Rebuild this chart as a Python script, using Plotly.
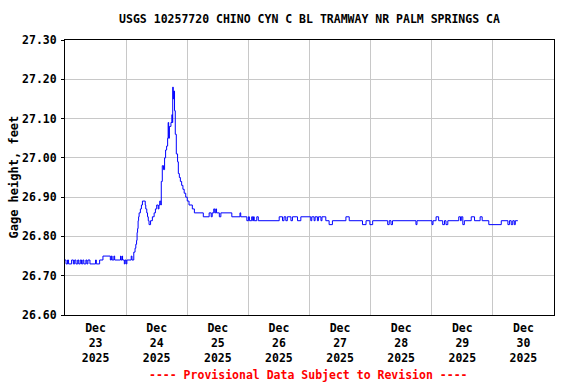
import pandas as pd
import plotly.graph_objects as go

# hours since 2025-12-23 00:00 at which gage height changes, and the new value (feet)
change_hours = [
    0.0, 0.4, 1.0, 1.4, 2.6, 3.3, 3.8, 4.3, 5.0, 5.4, 6.0, 6.5, 7.0, 7.4, 8.2, 8.6, 9.0, 9.8,
    12.0, 12.3, 13.6, 14.9, 17.8, 18.2, 18.5, 19.2, 19.5, 21.8, 22.0, 22.4, 22.6, 23.3, 23.6,
    24.0, 24.3, 26.0, 26.3, 27.0, 27.5, 27.8, 28.1, 28.3, 28.5, 28.7, 28.9, 29.1, 29.6, 30.0,
    30.4, 31.5, 31.7, 32.1, 32.4, 32.7, 33.0, 33.6, 34.3, 35.0, 35.5, 36.0, 36.6, 36.9, 37.2,
    37.6, 37.8, 38.2, 38.7, 39.1, 39.5, 39.9, 40.3, 40.5, 40.7, 41.0, 41.6, 42.0, 42.1, 42.3,
    42.5, 42.7, 43.0, 43.3, 43.7, 44.2, 44.5, 44.9, 45.3, 45.8, 46.3, 46.8, 47.4, 48.0, 48.7,
    50.0, 50.8, 54.3, 56.6, 57.4, 57.8, 58.4, 58.8, 59.2, 59.5, 60.6, 61.2, 65.5, 68.7, 69.0,
    71.4, 72.0, 72.4, 73.3, 73.7, 74.0, 74.3, 75.3, 75.9, 84.1, 85.4, 86.0, 86.7, 87.3, 88.7,
    89.3, 91.3, 92.6, 96.5, 96.9, 97.8, 98.2, 99.1, 99.5, 100.5, 100.9, 102.4, 103.7, 105.0,
    110.3, 111.6, 116.8, 118.2, 119.7, 120.8, 126.7, 127.3, 128.0, 128.6, 137.8, 138.2, 144.1,
    144.5, 145.7, 146.7, 148.3, 149.0, 149.6, 150.3, 154.6, 155.3, 155.6, 156.2, 156.8, 159.5,
    160.8, 163.0, 163.8, 166.4, 171.3, 173.9, 174.5, 175.2, 175.8, 176.4, 176.8, 177.8,
]
gage_height = [
    26.74, 26.73, 26.74, 26.73, 26.74, 26.73, 26.74, 26.73, 26.74, 26.73, 26.74, 26.73, 26.74, 26.73, 26.74, 26.73, 26.74, 26.73,
    26.74, 26.73, 26.74, 26.75, 26.74, 26.75, 26.74, 26.75, 26.74, 26.75, 26.74, 26.75, 26.74, 26.73, 26.74,
    26.73, 26.74, 26.75, 26.74, 26.76, 26.77, 26.78, 26.79, 26.81, 26.82, 26.84, 26.85, 26.86, 26.87, 26.88,
    26.89, 26.88, 26.87, 26.86, 26.85, 26.84, 26.83, 26.84, 26.85, 26.86, 26.87, 26.88, 26.87, 26.88, 26.89,
    26.88, 26.94, 26.98, 26.97, 27.00, 27.02, 27.03, 27.05, 27.09, 27.05, 27.08, 27.09, 27.11, 27.09, 27.18,
    27.15, 27.17, 27.12, 27.06, 27.01, 26.99, 26.96, 26.95, 26.94, 26.93, 26.92, 26.91, 26.90, 26.89, 26.88,
    26.87, 26.86, 26.85, 26.86, 26.85, 26.86, 26.87, 26.86, 26.87, 26.86, 26.85, 26.86, 26.85, 26.86, 26.85,
    26.84, 26.85, 26.84, 26.85, 26.84, 26.85, 26.84, 26.85, 26.84, 26.85, 26.84, 26.85, 26.84, 26.85, 26.84,
    26.85, 26.84, 26.85, 26.84, 26.85, 26.84, 26.85, 26.84, 26.85, 26.84, 26.85, 26.84, 26.83, 26.84,
    26.85, 26.84, 26.83, 26.84, 26.83, 26.84, 26.83, 26.84, 26.83, 26.84, 26.83, 26.84, 26.83,
    26.84, 26.85, 26.84, 26.83, 26.84, 26.83, 26.84, 26.85, 26.84, 26.85, 26.83, 26.84, 26.85,
    26.84, 26.85, 26.84, 26.83, 26.84, 26.83, 26.84, 26.83, 26.84, 26.83, 26.84, 26.84,
]
start = pd.Timestamp("2025-12-23 00:00")
times = start + pd.to_timedelta(change_hours, unit="h")

title_text = "USGS 10257720 CHINO CYN C BL TRAMWAY NR PALM SPRINGS CA"
y_title = "Gage height, feet"
footer = "---- Provisional Data Subject to Revision ----"
y_ticks = [26.6, 26.7, 26.8, 26.9, 27.0, 27.1, 27.2, 27.3]

FONT = "DejaVu Sans Mono"
L, R, T, B = 65, 22, 40, 69
PW, PH = 576 - L - R, 384 - T - B

fig = go.Figure()
fig.add_trace(go.Scatter(
    x=times, y=gage_height, mode="lines", line_shape="hv",
    line=dict(color="#0000FF", width=1), showlegend=False,
))

fig.update_layout(
    width=576, height=384,
    margin=dict(l=L, r=R, t=T, b=B, autoexpand=False),
    paper_bgcolor="white", plot_bgcolor="white",
    font=dict(family=FONT, size=11.5, color="black", weight="bold"),
    title=dict(text=title_text, x=0.5, xref="paper", xanchor="center",
               y=1 - 19 / 384, yref="container", yanchor="middle",
               font=dict(family=FONT, size=11.5, color="black", weight="bold")),
)
fig.update_xaxes(
    type="date", automargin=False,
    range=[pd.Timestamp("2025-12-23 00:00"), pd.Timestamp("2025-12-31 00:00")],
    dtick=86400000, tick0="2025-12-23", ticklabelmode="period",
    tickformat="%b<br>%d<br>%Y", ticks="", ticklabelstandoff=2,
    showgrid=True, gridcolor="#c8c8c8", gridwidth=1,
    showline=True, linecolor="black", linewidth=1, mirror=True,
    zeroline=False,
    tickfont=dict(family=FONT, size=11.5, color="black", weight="bold"),
)
fig.update_yaxes(
    automargin=False,
    range=[26.6, 27.3], tickvals=y_ticks, tickformat=".2f",
    ticks="outside", ticklen=3, tickcolor="black", ticklabelstandoff=2,
    showgrid=True, gridcolor="#c8c8c8", gridwidth=1,
    showline=True, linecolor="black", linewidth=1, mirror=True,
    zeroline=False,
    tickfont=dict(family=FONT, size=11.5, color="black", weight="bold"),
)
fig.add_annotation(
    text=y_title, xref="paper", yref="paper",
    x=(13 - L) / PW, y=0.5, textangle=-90,
    xanchor="center", yanchor="middle", showarrow=False,
    font=dict(family=FONT, size=12, color="black", weight="bold"),
)
fig.add_annotation(
    text=footer, xref="paper", yref="paper", x=(308 - L) / PW, y=-(375 - T - PH) / PH,
    xanchor="center", yanchor="middle", showarrow=False,
    font=dict(family=FONT, size=11.5, color="#FF0000", weight="bold"),
)

fig.write_html("out.html", config={"displayModeBar": False},
               post_script="document.body.style.margin='0';")
